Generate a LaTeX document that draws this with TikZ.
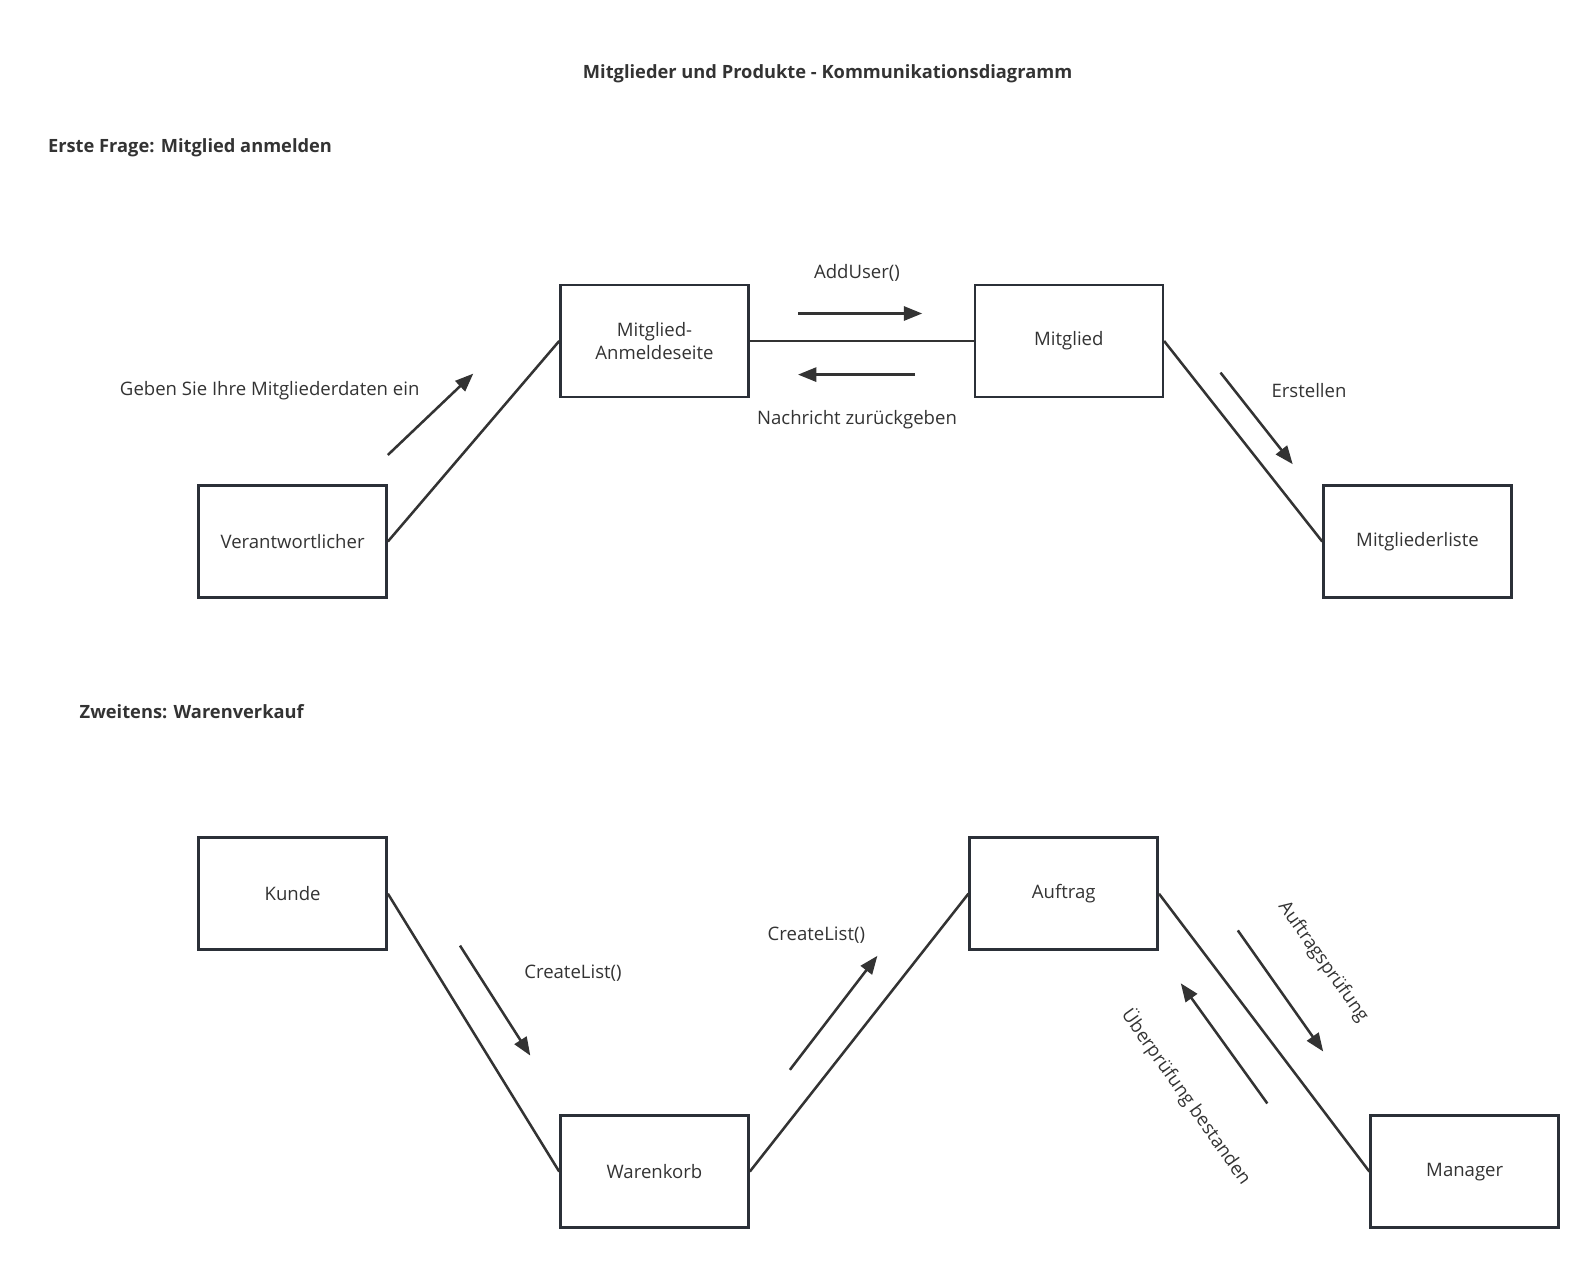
\documentclass[tikz,border=0pt]{standalone}
\usepackage{fontspec}
\setmainfont{Open Sans}
\usetikzlibrary{arrows.meta}
\definecolor{inkgray}{HTML}{333333}
\definecolor{boxline}{HTML}{2B3038}
\newcommand\lblfont{\fontsize{13.2}{15.8}\selectfont}
\newcommand\headfont{\fontsize{13}{15.6}\selectfont\bfseries}

\begin{document}
\begin{tikzpicture}[x=0.025cm,y=-0.025cm,>={Triangle[length=13pt,width=10pt]},
  box/.style={draw=boxline,line width=1.8pt,minimum width=4.7cm,minimum height=2.8cm,text=inkgray,font=\lblfont,align=center},
  link/.style={draw=inkgray,line width=1.8pt},
  msg/.style={->,draw=inkgray,fill=inkgray,line width=1.8pt},
  lbl/.style={text=inkgray,font=\lblfont},
  head/.style={text=inkgray,font=\headfont,inner xsep=0pt}]
\useasboundingbox (0,0) rectangle (1596,1276);

% titles
\node[head] (title) at (827.6,73.5) {Mitglieder und Produkte - Kommunikationsdiagramm};
\node[head,anchor=west] (part1) at (47.8,147.8) {Erste Frage: Mitglied anmelden};
\node[head,anchor=west] (part2) at (79.4,711.5) {Zweitens: Warenverkauf};

% first part
\node[box] (verant) at (292.6,541.5) {Verantwortlicher};
\node[box] (anmeld) at (654.5,341) {Mitglied-\\Anmeldeseite};
\node[box] (mitgl) at (1068.8,341) {Mitglied};
\node[box] (liste) at (1417.5,541.5) {Mitgliederliste};

\draw[link] (verant.east) -- (anmeld.west);
\draw[link] (anmeld.east) -- (mitgl.west);
\draw[link] (mitgl.east) -- (liste.west);

\coordinate (eingabeA) at (387.8,455);
\coordinate (eingabeB) at (473.3,373.6);
\coordinate (adduserA) at (798,313.5);
\coordinate (adduserB) at (922.2,313.5);
\coordinate (rueckA) at (915,374.6);
\coordinate (rueckB) at (798,374.6);
\coordinate (erstA) at (1220.5,372.6);
\coordinate (erstB) at (1292.7,464.2);

\draw[msg] (eingabeA) -- (eingabeB);
\draw[msg] (adduserA) -- (adduserB);
\draw[msg] (rueckA) -- (rueckB);
\draw[msg] (erstA) -- (erstB);

\node[lbl] (eingabe) at (269.7,390.3) {Geben Sie Ihre Mitgliederdaten ein};
\node[lbl] (adduser) at (857,273.3) {AddUser()};
\node[lbl] (rueck) at (857,419.8) {Nachricht zurückgeben};
\node[lbl] (erst) at (1309,390.3) {Erstellen};

% second part
\node[box] (kunde) at (292.6,893.7) {Kunde};
\node[box] (korb) at (654.5,1171.6) {Warenkorb};
\node[box] (auftrag) at (1063.7,893.7) {Auftrag};
\node[box] (manager) at (1464.7,1171.6) {Manager};

\draw[link] (kunde.east) -- (korb.west);
\draw[link] (korb.east) -- (auftrag.west);
\draw[link] (auftrag.east) -- (manager.west);

\coordinate (listeA) at (460,945.6);
\coordinate (listeB) at (530.3,1055.6);
\coordinate (liste2A) at (789.9,1069.8);
\coordinate (liste2B) at (877.4,955.8);
\coordinate (pruefA) at (1237.8,930.4);
\coordinate (pruefB) at (1323.2,1051.5);
\coordinate (bestA) at (1267.3,1103.4);
\coordinate (bestB) at (1180.8,983.3);

\draw[msg] (listeA) -- (listeB);
\draw[msg] (liste2A) -- (liste2B);
\draw[msg] (pruefA) -- (pruefB);
\draw[msg] (bestA) -- (bestB);

\node[lbl] (create1) at (573,973.5) {CreateList()};
\node[lbl] (create2) at (816.4,934.9) {CreateList()};
\node[lbl,rotate=-54.8] (pruef) at (1323,962) {Auftragsprüfung};
\node[lbl,rotate=-54.8] (best) at (1186.4,1096.8) {Überprüfung bestanden};
\end{tikzpicture}
\end{document}
